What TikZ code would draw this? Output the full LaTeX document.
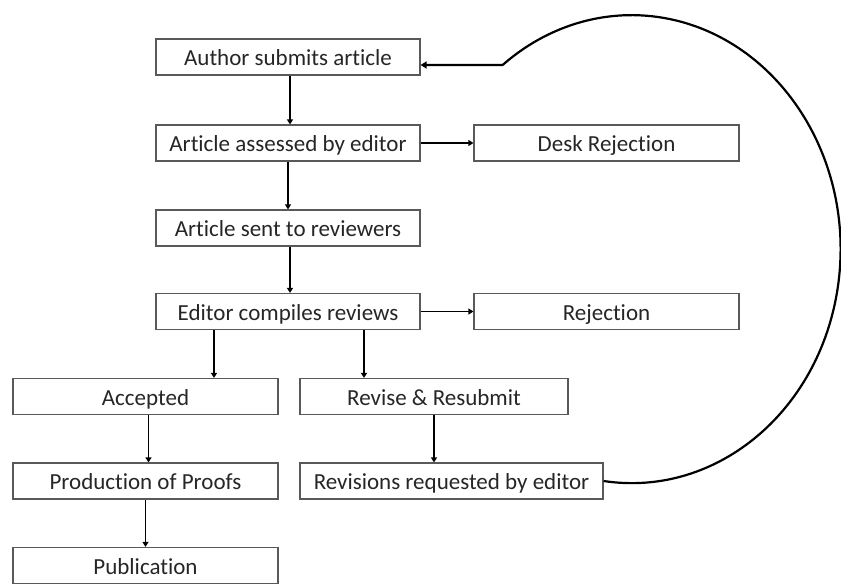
\documentclass[tikz,border=0pt]{standalone}
\usepackage{fontspec}
\setmainfont{Carlito}[Ligatures=NoCommon]
\usetikzlibrary{arrows.meta}
\definecolor{boxline}{HTML}{595959}
\definecolor{txt}{HTML}{262626}
\tikzset{
  stage/.style={draw=boxline, line width=1.2pt, minimum height=36pt, inner sep=0pt,
    text=txt, font=\fontsize{23}{26}\selectfont, fill=white,
    text height=20pt, text depth=3pt},
  link/.style={draw=black, line width=1.6pt, -{Triangle[width=6pt,length=5pt]}},
  loopback/.style={draw=black, line width=2.2pt, -{Triangle[width=7pt,length=6pt]}}
}
\begin{document}
\begin{tikzpicture}[x=1pt, y=-1pt]
\useasboundingbox (0,0) rectangle (841,584);
% main column
\node[stage, minimum width=264pt] (author)   at (288,57)    {Author submits article};
\node[stage, minimum width=264pt] (assessed) at (288,143)   {Article assessed by editor};
\node[stage, minimum width=265pt] (desk)     at (606.5,143) {Desk Rejection};
\node[stage, minimum width=264pt] (sent)     at (288,228)   {Article sent to reviewers};
\node[stage, minimum width=264pt] (compiles) at (288,311.5) {Editor compiles reviews};
\node[stage, minimum width=265pt] (reject)   at (606.5,311.5) {Rejection};
% outcomes
\node[stage, minimum width=265pt] (accepted) at (145.5,396.5) {Accepted};
\node[stage, minimum width=268pt] (revise)   at (434,396.5) {Revise \& Resubmit};
\node[stage, minimum width=265pt] (proofs)   at (145.5,481) {Production of Proofs};
\node[stage, minimum width=303pt] (revisions) at (451.5,481) {Revisions requested by editor};
\node[stage, minimum width=265pt] (publication) at (145.5,565.5) {Publication};
% connectors
\draw[link] ([xshift=2pt]author.south) -- ([xshift=2pt]assessed.north);
\draw[link] (assessed.south) -- (sent.north);
\draw[link] ([xshift=2pt]sent.south) -- ([xshift=2pt]compiles.north);
\draw[link] (assessed.east) -- (desk.west);
\draw[link] (compiles.east) -- (reject.west);
\draw[link] ([xshift=-74pt]compiles.south) -- ([xshift=-74pt]compiles.south |- accepted.north);
\draw[link] ([xshift=76pt]compiles.south) -- ([xshift=76pt]compiles.south |- revise.north);
\draw[link] ([xshift=3pt]accepted.south) -- ([xshift=3pt]proofs.north);
\draw[link] (proofs.south) -- (publication.north);
\draw[link] (revise.south) -- (revise.south |- revisions.north);
% resubmission loop
\draw[loopback] (revisions.east)
  arc[start angle=97.7, end angle=-128.1, x radius=209, y radius=234]
  -- ([yshift=-8pt]author.east);
\end{tikzpicture}
\end{document}
